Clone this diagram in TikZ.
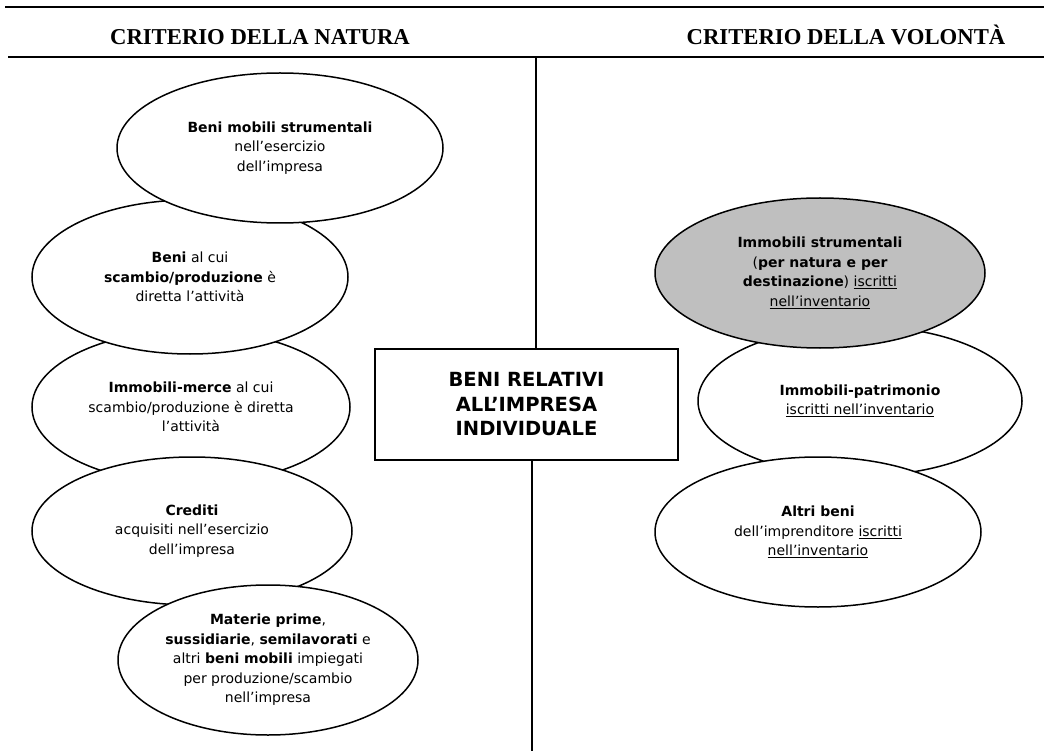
\documentclass[tikz,border=0pt]{standalone}
\usepackage{fontspec}
\setmainfont{DejaVu Sans}
\newfontfamily\hdrfont{Liberation Serif}
\usetikzlibrary{shapes.geometric}
\begin{document}
\begin{tikzpicture}[x=1pt,y=-1pt,
  bubble/.style={ellipse, draw=black, line width=1.5pt, fill=white, inner sep=0pt, align=center,
    font=\fontsize{14}{19.5}\selectfont},
  graybubble/.style={bubble, fill=gray!50!white},
  hdr/.style={font=\hdrfont\bfseries\fontsize{22.7}{26}\selectfont, inner sep=0pt, anchor=base},
  rulel/.style={line width=2.6pt},
  axisl/.style={line width=1.7pt},
  mainbox/.style={draw=black, line width=1.5pt, fill=white, inner sep=0pt, align=center,
    minimum width=303pt, minimum height=111pt, font=\bfseries\fontsize{19.5}{24.5}\selectfont}]
\useasboundingbox (0,0) rectangle (1044,751);
% header rules
\coordinate (r1a) at (5,7);
\coordinate (r1b) at (1044,7);
\coordinate (r2a) at (8,57);
\coordinate (r2b) at (1044,57);
\draw[rulel] (r1a) -- (r1b);
\draw[rulel] (r2a) -- (r2b);
\node[hdr] (hl) at (260,45) {CRITERIO DELLA NATURA};
\node[hdr] (hr) at (846,45) {CRITERIO DELLA VOLONTÀ};
% central box and axis
\node[mainbox] (box) at (526.5,404.5) {BENI RELATIVI\\ALL’IMPRESA\\INDIVIDUALE};
\coordinate (atop) at (536,57);
\coordinate (abot) at (532,751);
\draw[axisl] (atop) -- (atop |- box.north);
\draw[axisl] (abot) -- (abot |- box.south);
% left ellipses (drawing order for overlaps)
\node[bubble, minimum width=318pt, minimum height=154pt] (e3) at (191,407)
  {\textbf{Immobili-merce} al cui\\scambio/produzione è diretta\\l’attività};
\node[bubble, minimum width=320pt, minimum height=148pt] (e4) at (192,531)
  {\textbf{Crediti}\\acquisiti nell’esercizio\\dell’impresa};
\node[bubble, minimum width=300pt, minimum height=150pt] (e5) at (268,660)
  {\textbf{Materie prime},\\\textbf{sussidiarie}, \textbf{semilavorati} e\\altri \textbf{beni mobili} impiegati\\per produzione/scambio\\nell’impresa};
\node[bubble, minimum width=316pt, minimum height=154pt] (e2) at (190,277)
  {\textbf{Beni} al cui\\\textbf{scambio/produzione} è\\diretta l’attività};
\node[bubble, minimum width=326pt, minimum height=150pt] (e1) at (280,148)
  {\textbf{Beni mobili strumentali}\\nell’esercizio\\dell’impresa};
% right ellipses
\node[bubble, minimum width=324pt, minimum height=150pt] (r2) at (860,401)
  {\textbf{Immobili-patrimonio}\\\underline{iscritti nell’inventario}};
\node[bubble, minimum width=326pt, minimum height=150pt] (r3) at (818,532)
  {\textbf{Altri beni}\\dell’imprenditore \underline{iscritti}\\\underline{nell’inventario}};
\node[graybubble, minimum width=330pt, minimum height=150pt] (r1) at (820,273)
  {\textbf{Immobili strumentali}\\(\textbf{per natura e per}\\\textbf{destinazione}) \underline{iscritti}\\\underline{nell’inventario}};
\end{tikzpicture}
\end{document}
